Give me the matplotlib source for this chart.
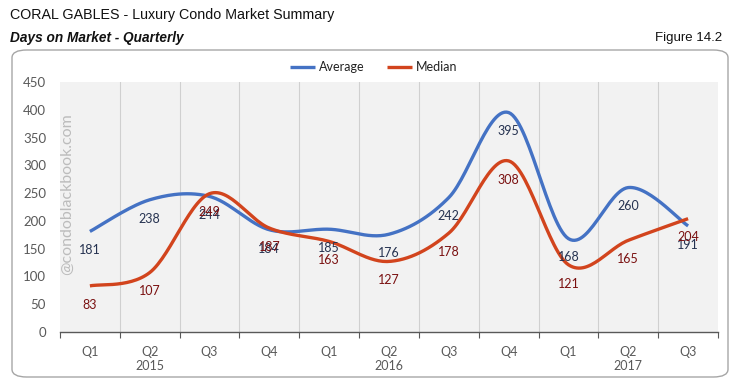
import matplotlib
matplotlib.use("Agg")
import matplotlib.pyplot as plt
import numpy as np
from matplotlib.patches import FancyBboxPatch

quarters = ["Q1", "Q2", "Q3", "Q4", "Q1", "Q2", "Q3", "Q4", "Q1", "Q2", "Q3"]
years = ["2015", "2016", "2017"]
year_pos = [1, 5, 9]
average = [181, 238, 244, 184, 185, 176, 242, 395, 168, 260, 191]
median = [83, 107, 249, 187, 163, 127, 178, 308, 121, 165, 204]
yticks = [0, 50, 100, 150, 200, 250, 300, 350, 400, 450]

W, H = 736, 388
fig = plt.figure(figsize=(W / 100, H / 100), dpi=100)

FONT = ["Lato", "DejaVu Sans"]
NARROW = ["Liberation Sans Narrow", "Liberation Sans", "DejaVu Sans"]

# outer rounded box
box = FancyBboxPatch((12 / W, (H - 377) / H), (728 - 12) / W, (377 - 50) / H,
                     boxstyle="round,pad=0,rounding_size=0.02",
                     transform=fig.transFigure, fill=False,
                     edgecolor="#a6a6a6", linewidth=1.0, zorder=0)
fig.patches.append(box)

fig.text(10 / W, 1 - 15 / H, "CORAL GABLES - Luxury Condo Market Summary",
         family=NARROW, fontsize=10.3, color="#111111", va="center", ha="left")
fig.text(10 / W, 1 - 38 / H, "Days on Market - Quarterly",
         family=NARROW, fontsize=9.8, style="italic", weight="bold",
         color="#111111", va="center", ha="left")
fig.text(722 / W, 1 - 38 / H, "Figure 14.2",
         family=NARROW, fontsize=9.5, color="#111111", va="center", ha="right")

left, right, top, bottom = 60, 718, 82, 332
ax = fig.add_axes([left / W, (H - bottom) / H, (right - left) / W, (bottom - top) / H])
ax.set_facecolor("#f2f2f2")
n = len(quarters)
x = np.arange(n)
ax.set_xlim(-0.5, n - 0.5)
ax.set_ylim(0, 450)


def smooth(xs, ys, steps=30):
    xs = np.asarray(xs, float)
    ys = np.asarray(ys, float)
    P = np.column_stack([xs, ys])
    Pext = np.vstack([P[0], P, P[-1]])
    out = []
    for i in range(len(P) - 1):
        p0, p1, p2, p3 = Pext[i], Pext[i + 1], Pext[i + 2], Pext[i + 3]
        c1 = p1 + (p2 - p0) / 6.0
        c2 = p2 - (p3 - p1) / 6.0
        t = np.linspace(0, 1, steps)[:, None]
        seg = ((1 - t) ** 3) * p1 + 3 * ((1 - t) ** 2) * t * c1 + 3 * (1 - t) * t ** 2 * c2 + t ** 3 * p2
        out.append(seg if i == 0 else seg[1:])
    out = np.vstack(out)
    return out[:, 0], out[:, 1]


blue = "#4472c4"
red = "#d2441d"
sx, sy = smooth(x, average)
ax.plot(sx, sy, color=blue, lw=2.4, solid_capstyle="butt", zorder=3, label="Average")
sx, sy = smooth(x, median)
ax.plot(sx, sy, color=red, lw=2.4, solid_capstyle="butt", zorder=3, label="Median")

for i in range(n):
    ax.annotate(str(average[i]), (x[i], average[i]), xytext=(0, -13.5), textcoords="offset points",
                ha="center", va="center", fontsize=9, color="#253250", family=FONT, zorder=4)
    ax.annotate(str(median[i]), (x[i], median[i]), xytext=(0, -13.5), textcoords="offset points",
                ha="center", va="center", fontsize=9, color="#7a1010", family=FONT, zorder=4)

# vertical gridlines at boundaries
for b in np.arange(0.5, n - 0.5, 1):
    ax.axvline(b, color="#d0d0d0", lw=0.8, zorder=1)

for s in ["left", "right", "top"]:
    ax.spines[s].set_visible(False)
ax.spines["bottom"].set_color("#595959")
ax.spines["bottom"].set_linewidth(1.0)

ax.set_yticks(yticks)
ax.set_yticklabels([str(v) for v in yticks], family=FONT, fontsize=9.5, color="#595959")
ax.tick_params(axis="y", length=0, pad=10)

ax.set_xticks(np.arange(-0.5, n, 1), minor=False)
ax.set_xticklabels([])
ax.tick_params(axis="x", which="major", length=4, color="#595959", direction="out")
ax.set_xticks(x, minor=True)
ax.set_xticklabels(quarters, minor=True, family=FONT, fontsize=9, color="#595959")
ax.tick_params(axis="x", which="minor", length=0, pad=10)
for yp, yl in zip(year_pos, years):
    ax.text(yp, -0.138, yl, transform=ax.get_xaxis_transform(), ha="center", va="center",
            family=FONT, fontsize=9, color="#595959")

ax.text(0.011, 0.55, "@condoblackbook.com", transform=ax.transAxes, rotation=90,
        ha="center", va="center", family=FONT, fontsize=11.5, color="#bcbcbc", zorder=2)

leg = fig.legend(loc="center", bbox_to_anchor=(374 / W, 1 - 67 / H), ncol=2, frameon=False,
                 prop={"family": FONT, "size": 9}, handlelength=2.0, columnspacing=1.8,
                 handletextpad=0.3)
for t in leg.get_texts():
    t.set_color("#222222")

fig.savefig("out.png", dpi=100)
